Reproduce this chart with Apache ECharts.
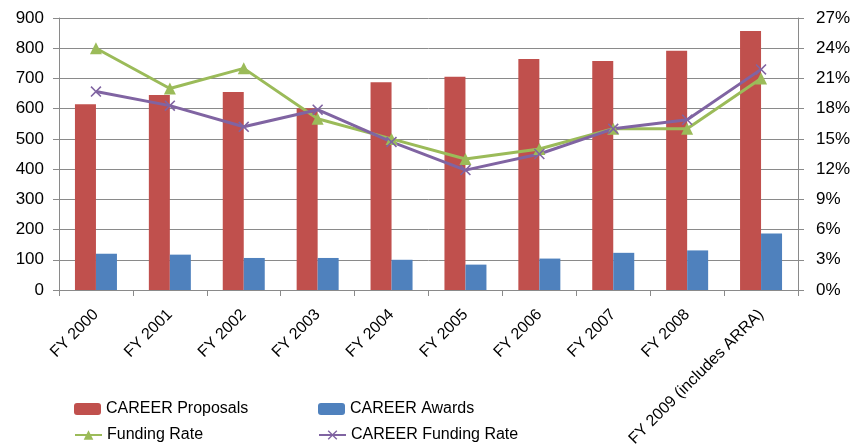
<!DOCTYPE html>
<html>
<head>
<meta charset="utf-8">
<script src="https://cdn.jsdelivr.net/npm/echarts@6/dist/echarts.min.js"></script>
<style>
  html, body { margin: 0; padding: 0; background: #fff; }
  #chart { width: 854px; height: 444px; }
</style>
</head>
<body>
<div id="chart"></div>
<script>
// data
const categories = ["FY 2000", "FY 2001", "FY 2002", "FY 2003", "FY 2004",
  "FY 2005", "FY 2006", "FY 2007", "FY 2008", "FY 2009 (includes ARRA)"];
const proposals = [615, 645, 655, 601, 687, 706, 764, 758, 792, 857];
const awards = [120, 117, 106, 106, 100, 84, 104, 123, 131, 187];
const fundingRate = [24, 20, 22, 17, 15, 13, 14, 16, 16, 21];
const careerRate = [19.7, 18.3, 16.2, 17.9, 14.7, 11.9, 13.5, 16.0, 16.9, 21.9];

const FONT = "'Liberation Sans', Arial, sans-serif";
const GRID = "#8a8a8a";
const crossPath = "path://M0,1 L1,0 L5,4 L9,0 L10,1 L6,5 L10,9 L9,10 L5,6 L1,10 L0,9 L4,5 Z";

const legendBase = {
  itemWidth: 27,
  itemHeight: 12,
  itemGap: 5,
  textStyle: { fontFamily: FONT, fontSize: 16, color: "#000" },
};

const chart = echarts.init(document.getElementById("chart"), null, { renderer: "canvas" });
chart.setOption({
  animation: false,
  grid: { left: 59, right: 56, top: 18, bottom: 154, outerBoundsMode: "none", containLabel: false },
  legend: [
    Object.assign({ data: ["CAREER Proposals"], left: 69, top: 396 }, legendBase),
    Object.assign({ data: ["CAREER Awards"], left: 313, top: 396 }, legendBase),
    Object.assign({ data: ["Funding Rate"], left: 69, top: 422 }, legendBase),
    Object.assign({ data: ["CAREER Funding Rate"], left: 313, top: 422 }, legendBase),
  ],
  xAxis: {
    type: "category",
    data: categories,
    axisLine: { lineStyle: { color: GRID } },
    axisTick: { show: true, length: 6, lineStyle: { color: GRID } },
    axisLabel: {
      rotate: 45,
      interval: 0,
      margin: 22,
      fontFamily: FONT,
      fontSize: 16,
      color: "#000",
    },
  },
  yAxis: [
    {
      type: "value",
      min: 0,
      max: 900,
      interval: 100,
      axisLine: { show: true, lineStyle: { color: GRID } },
      axisTick: { show: true, length: 6, lineStyle: { color: GRID } },
      splitLine: { lineStyle: { color: GRID, width: 1 } },
      axisLabel: { margin: 15, fontFamily: FONT, fontSize: 17, color: "#000" },
    },
    {
      type: "value",
      min: 0,
      max: 27,
      interval: 3,
      position: "right",
      axisLine: { show: true, lineStyle: { color: GRID } },
      axisTick: { show: true, length: 6, lineStyle: { color: GRID } },
      splitLine: { show: false },
      axisLabel: { margin: 18, formatter: "{value}%", fontFamily: FONT, fontSize: 17, color: "#000" },
    },
  ],
  series: [
    {
      name: "CAREER Proposals",
      type: "bar",
      data: proposals,
      barWidth: 21,
      barGap: "0%",
      itemStyle: { color: "#C0504D" },
    },
    {
      name: "CAREER Awards",
      type: "bar",
      data: awards,
      barWidth: 21,
      barGap: "0%",
      itemStyle: { color: "#4F81BD" },
    },
    {
      name: "Funding Rate",
      type: "line",
      yAxisIndex: 1,
      data: fundingRate,
      symbol: "triangle",
      symbolSize: 12,
      lineStyle: { color: "#9BBB59", width: 3 },
      itemStyle: { color: "#9BBB59" },
    },
    {
      name: "CAREER Funding Rate",
      type: "line",
      yAxisIndex: 1,
      data: careerRate,
      symbol: crossPath,
      symbolSize: 11,
      lineStyle: { color: "#8064A2", width: 3 },
      itemStyle: { color: "#8064A2" },
    },
  ],
});
</script>
</body>
</html>
